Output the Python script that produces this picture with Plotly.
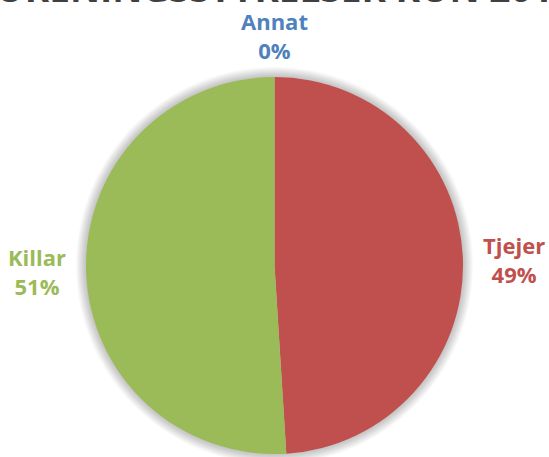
import math
import plotly.graph_objects as go

# Gender split in association boards
labels = ["Annat", "Tjejer", "Killar"]
values = [0, 49, 51]
colors = ["#4F81BD", "#C0504D", "#9BBB59"]
title_text = "FÖRENINGSSTYRELSER KÖN 2015"

W, H = 549, 457
margin = dict(l=86, r=86, t=77, b=3)
radius = (W - margin["l"] - margin["r"]) / 2  # pie fills the square plot area

fig = go.Figure(
    go.Pie(
        labels=labels,
        values=values,
        sort=False,
        direction="clockwise",
        rotation=0,
        marker=dict(colors=colors, line=dict(width=0)),
        textinfo="none",
        showlegend=False,
        hoverinfo="label+percent",
    )
)

# Soft glow behind the pie
for k in range(1, 11):
    fig.add_shape(
        type="circle",
        layer="below",
        xref="paper", yref="paper",
        xsizemode="pixel", ysizemode="pixel",
        xanchor=0.5, yanchor=0.5,
        x0=-radius - k, x1=radius + k,
        y0=-radius - k, y1=radius + k,
        fillcolor="rgba(0,0,0,0.022)",
        line=dict(width=0),
    )

# Category labels placed just outside each slice's mid-angle
total = sum(values)
annotations = []
cum = 0.0
for lab, val, col in zip(labels, values, colors):
    frac = val / total
    mid = (cum + frac / 2) * 2 * math.pi
    cum += frac
    dx = math.sin(mid)
    dy = math.cos(mid)
    if abs(dx) < 0.3:
        xa, ya = "center", ("bottom" if dy > 0 else "top")
        r_lab = radius + 10
    else:
        xa, ya = ("left" if dx > 0 else "right"), "middle"
        r_lab = radius + 18
    annotations.append(
        dict(
            text=f"<b>{lab}<br>{frac:.0%}</b>",
            x=0.5, y=0.5, xref="paper", yref="paper",
            xshift=r_lab * dx, yshift=r_lab * dy,
            xanchor=xa, yanchor=ya,
            showarrow=False,
            font=dict(family="Open Sans", size=22, color=col),
        )
    )

# Chart title, sitting mostly above the top edge of the page
annotations.append(
    dict(
        text="<b>" + title_text + "</b>",
        x=0.5, y=1.0, xref="paper", yref="paper",
        yanchor="bottom", yshift=margin["t"] - 15,
        showarrow=False,
        font=dict(family="Open Sans", size=37, color="#404040"),
    )
)

fig.update_layout(
    width=W,
    height=H,
    paper_bgcolor="white",
    plot_bgcolor="white",
    margin=margin,
    annotations=annotations,
)

fig.write_html("out.html")
